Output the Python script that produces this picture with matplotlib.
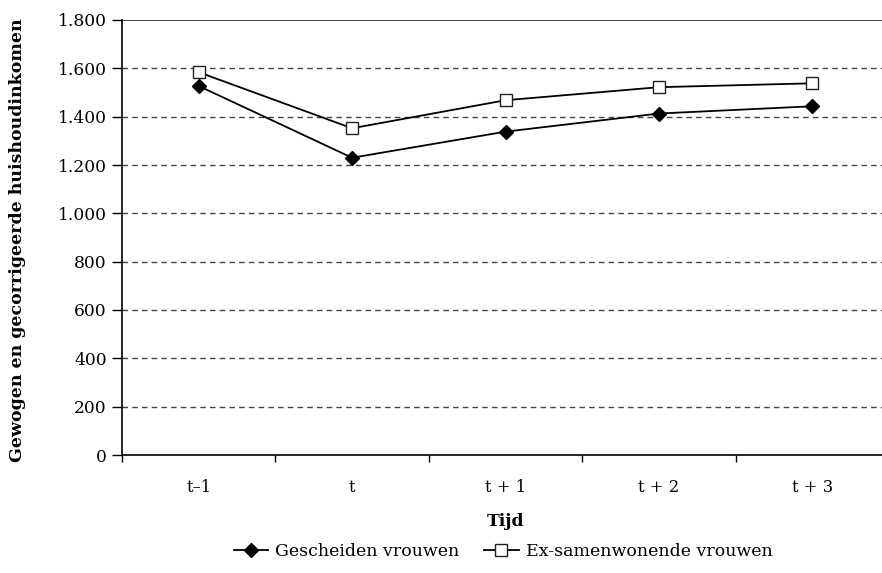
import matplotlib
matplotlib.use("Agg")
import matplotlib.pyplot as plt
from matplotlib.lines import Line2D

categories = ["t\u20131", "t", "t + 1", "t + 2", "t + 3"]
gescheiden = [1527, 1230, 1338, 1413, 1443]
ex_samenwonend = [1584, 1352, 1468, 1522, 1538]
yticks = [0, 200, 400, 600, 800, 1000, 1200, 1400, 1600, 1800]
ytick_labels = ["0", "200", "400", "600", "800", "1.000", "1.200", "1.400", "1.600", "1.800"]

plt.rcParams['font.family'] = ['DejaVu Serif']

fig = plt.figure(figsize=(8.82, 5.73), dpi=100)
ax = fig.add_axes([122/882, 1-455/573, 767/882, 435/573])

x = list(range(len(categories)))
for v in yticks[1:-1]:
    ax.axhline(v, color="#444444", lw=1.0, ls=(0, (4, 3)), zorder=1)
ax.axhline(1800, color="#222222", lw=1.2, zorder=1)

ax.plot(x, gescheiden, color="black", lw=1.3, marker="D", markersize=7.5,
        markerfacecolor="black", markeredgecolor="black", zorder=3,
        label="Gescheiden vrouwen")
ax.plot(x, ex_samenwonend, color="black", lw=1.3, marker="s", markersize=9,
        markerfacecolor="white", markeredgecolor="#222222", markeredgewidth=1.0,
        zorder=3, label="Ex-samenwonende vrouwen")

ax.set_xlim(-0.5, len(categories) - 0.5)
ax.set_ylim(0, 1800)
ax.set_yticks(yticks)
ax.set_yticklabels(ytick_labels, fontsize=12.3)
ax.set_xticks(x)
ax.set_xticklabels(categories, fontsize=11.8)
ax.set_xticks([i - 0.5 for i in range(len(categories) + 1)], minor=True)
ax.tick_params(axis="x", which="major", length=0, pad=17)
ax.tick_params(axis="x", which="minor", length=5, width=1.0, direction="out")
ax.tick_params(axis="y", length=7, width=1.0, direction="out", pad=4)

for s in ["top", "right"]:
    ax.spines[s].set_visible(False)
for s in ["left", "bottom"]:
    ax.spines[s].set_linewidth(1.2)

fig.text(18/882, 1-240/573, "Gewogen en gecorrigeerde huishoudinkomen", rotation=90,
         ha="center", va="center", fontsize=12.5, fontweight="bold")
fig.text(505/882, 1-521/573, "Tijd", ha="center", va="center", fontsize=12.3,
         fontweight="bold")

handles = [
    Line2D([], [], color="black", lw=1.3, marker="D", markersize=7,
           markerfacecolor="black"),
    Line2D([], [], color="black", lw=1.3, marker="s", markersize=8.5,
           markerfacecolor="white", markeredgecolor="#222222", markeredgewidth=1.0),
]
fig.legend(handles, ["Gescheiden vrouwen", "Ex-samenwonende vrouwen"],
           loc="center", bbox_to_anchor=(503/882, 1-552/573), ncol=2,
           frameon=False, fontsize=12.5, handlelength=2.0, handletextpad=0.4,
           columnspacing=1.4)

fig.savefig("out.png", dpi=100)
